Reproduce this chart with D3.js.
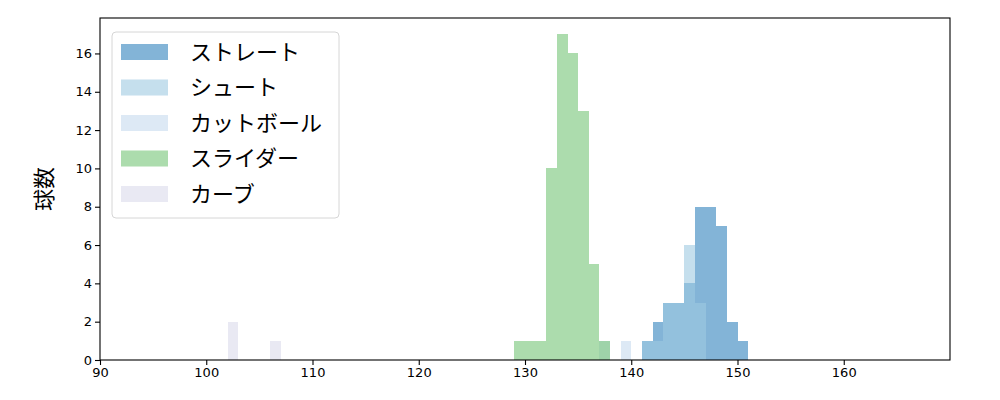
<!DOCTYPE html>
<html>
<head>
<meta charset="utf-8">
<script src="https://cdn.jsdelivr.net/npm/d3@7"></script>
<style>
  body { margin: 0; background: #fff; }
  svg text { font-family: "DejaVu Sans", sans-serif; }
  .jp { font-family: "Noto Sans CJK JP", sans-serif; }
</style>
</head>
<body>
<div id="chart"></div>
<script>
// pitch types, in drawing order
const pitchNames = ["ストレート", "シュート", "カットボール", "スライダー", "カーブ"];
const pitchColors = ["#3182bd", "#9ecae1", "#c6dbef", "#74c476", "#dadaeb"];

// bins are 1 km/h wide, keyed by their left edge
const straightBins = [141, 142, 143, 144, 145, 146, 147, 148, 149, 150];
const straightCounts = [1, 2, 3, 3, 4, 8, 8, 7, 2, 1];
const shootBins = [141, 142, 143, 144, 145, 146];
const shootCounts = [1, 1, 3, 3, 6, 3];
const cutBins = [137, 139];
const cutCounts = [1, 1];
const sliderBins = [129, 130, 131, 132, 133, 134, 135, 136, 137];
const sliderCounts = [1, 1, 1, 10, 17, 16, 13, 5, 1];
const curveBins = [102, 106];
const curveCounts = [2, 1];

const xTicks = [90, 100, 110, 120, 130, 140, 150, 160];
const yTicks = [0, 2, 4, 6, 8, 10, 12, 14, 16];

const series = [
  { bins: straightBins, counts: straightCounts },
  { bins: shootBins, counts: shootCounts },
  { bins: cutBins, counts: cutCounts },
  { bins: sliderBins, counts: sliderCounts },
  { bins: curveBins, counts: curveCounts }
];

const width = 1000, height = 400;
const margin = { top: 18, right: 50, bottom: 40, left: 100 };

const svg = d3.select("#chart").append("svg")
  .attr("width", width)
  .attr("height", height);

const x = d3.scaleLinear()
  .domain([90, 170])
  .range([margin.left, width - margin.right]);

const y = d3.scaleLinear()
  .domain([0, 17.85])
  .range([height - margin.bottom, margin.top]);

series.forEach((s, i) => {
  svg.append("g")
    .attr("shape-rendering", "crispEdges")
    .selectAll("rect")
    .data(s.bins.map((b, j) => ({ b, c: s.counts[j] })))
    .enter()
    .append("rect")
    .attr("x", d => x(d.b))
    .attr("width", d => x(d.b + 1) - x(d.b))
    .attr("y", d => y(d.c))
    .attr("height", d => y(0) - y(d.c))
    .attr("fill", pitchColors[i])
    .attr("fill-opacity", 0.6);
});

// axes
const xAxis = svg.append("g")
  .attr("transform", `translate(0,${height - margin.bottom})`)
  .call(d3.axisBottom(x).tickValues(xTicks).tickSize(5).tickPadding(3).tickFormat(d3.format("d")));
const yAxis = svg.append("g")
  .attr("transform", `translate(${margin.left},0)`)
  .call(d3.axisLeft(y).tickValues(yTicks).tickSize(5).tickPadding(3).tickFormat(d3.format("d")));

[xAxis, yAxis].forEach(a => {
  a.select(".domain").remove();
  a.selectAll("text").attr("font-size", 13).attr("fill", "#000").style("font-family", "DejaVu Sans, sans-serif");
  a.selectAll("line").attr("stroke", "#000").attr("stroke-width", 1.1);
});

// frame
svg.append("rect")
  .attr("x", margin.left)
  .attr("y", margin.top)
  .attr("width", width - margin.left - margin.right)
  .attr("height", height - margin.top - margin.bottom)
  .attr("fill", "none")
  .attr("stroke", "#000")
  .attr("stroke-width", 1.1);

// y label
svg.append("text")
  .attr("class", "jp")
  .attr("transform", `translate(52,${(margin.top + height - margin.bottom) / 2}) rotate(-90)`)
  .attr("text-anchor", "middle")
  .attr("font-size", 22)
  .text("球数");

// legend
const legend = svg.append("g").attr("transform", "translate(112,32)");
legend.append("rect")
  .attr("x", 0).attr("y", 0)
  .attr("width", 227).attr("height", 186)
  .attr("rx", 4)
  .attr("fill", "#fff")
  .attr("fill-opacity", 0.8)
  .attr("stroke", "#d6d6d6");

pitchNames.forEach((name, i) => {
  const row = legend.append("g").attr("transform", `translate(0,${20 + i * 35.5})`);
  row.append("rect")
    .attr("x", 9).attr("y", -8)
    .attr("width", 47).attr("height", 16)
    .attr("fill", pitchColors[i])
    .attr("fill-opacity", 0.6);
  row.append("text")
    .attr("class", "jp")
    .attr("x", 78)
    .attr("y", 0)
    .attr("dy", "0.36em")
    .attr("font-size", 22)
    .text(name);
});
</script>
</body>
</html>
